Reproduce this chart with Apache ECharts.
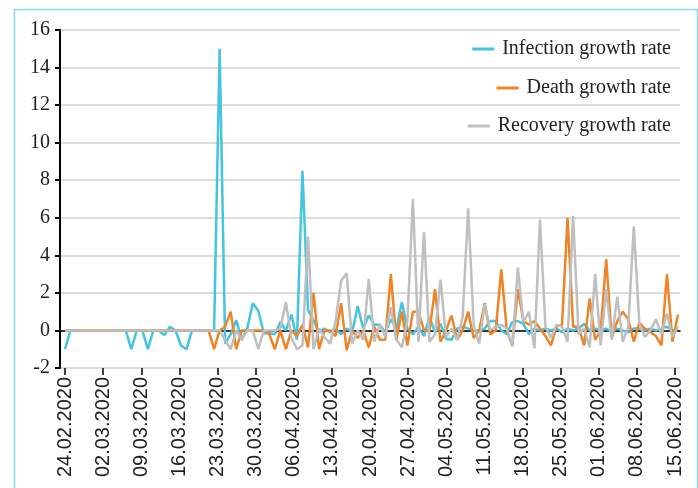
<!DOCTYPE html>
<html>
<head>
<meta charset="utf-8">
<script src="https://cdn.jsdelivr.net/npm/echarts@6/dist/echarts.min.js"></script>
<style>
html,body{margin:0;padding:0;background:#fff;}
#chart{width:698px;height:488px;}
</style>
</head>
<body>
<div id="chart"></div>
<script>
// ---- data ----
const seriesNames = ['Infection growth rate', 'Death growth rate', 'Recovery growth rate'];

// daily values starting 24.02.2020
const infection = [
  -1, 0, 0, 0, 0, 0, 0, 0, 0, 0,
  0, 0, -1, 0, 0, -1, 0, 0, -0.25, 0.2,
  0, -0.8, -1, 0, 0, 0, 0, 0, 15, -0.7,
  -0.2, 0.55, -0.5, 0.1, 1.45, 1.05, -0.15, -0.15, -0.2, 0.45,
  0, 0.85, -0.5, 8.5, 1.1, 0.55, -0.1, 0.1, -0.1, 0.1,
  -0.2, 0.1, -0.1, 1.3, 0.1, 0.8, 0.3, 0.3, -0.1, 0.6,
  0.1, 1.5, 0.1, -0.2, 0.2, -0.3, 0.7, -0.1, 0.35, -0.45,
  -0.5, 0.1, 0.2, 0.1, 0, 0, 0.1, 0.5, 0.5, 0,
  -0.2, 0.45, 0.5, 0.35, -0.2, 0.1, 0, 0.1, 0, 0.1,
  -0.1, 0.1, 0, 0.1, 0.35, 0, 0.1, 0, 0.1, -0.1,
  0.1, 0, -0.1, 0.1, 0.1, 0, 0.1, 0, 0.1, 0.2,
  0, 0.1
];
const death = [
  0, 0, 0, 0, 0, 0, 0, 0, 0, 0,
  0, 0, 0, 0, 0, 0, 0, 0, 0, 0,
  0, 0, 0, 0, 0, 0, 0, -1, 0, 0.2,
  1.0, -1.0, 0, 0, 0, 0, 0, -0.2, -1.0, 0,
  -1.0, 0, -0.3, 0.3, -0.9, 2.0, -1.0, 0, 0, -0.3,
  1.45, -1.05, 0, -0.4, 0, -0.9, 0.2, -0.5, -0.5, 3.0,
  -0.5, 1.0, -0.8, 1.0, 1.0, 0, 0, 2.2, -0.6, 0,
  0.8, -0.5, 0, 1.0, -0.4, 0, 1.45, -0.2, 0, 3.25,
  0, -0.8, 2.2, 0.5, 0.3, 0.5, 0.1, -0.3, -0.8, 0.2,
  0.3, 6.0, 0.2, 0.2, -0.8, 1.7, -0.5, 0, 3.8, -0.4,
  0.5, 1.0, 0.6, -0.6, 0.4, 0.1, -0.1, -0.3, -0.8, 3.0,
  -0.6, 0.85
];
const recovery = [
  0, 0, 0, 0, 0, 0, 0, 0, 0, 0,
  0, 0, 0, 0, 0, 0, 0, 0, 0, 0,
  0, 0, 0, 0, 0, 0, 0, 0, 0, -0.5,
  -1.0, 0, -0.5, 0, 0, -1.0, 0, 0, 0, 0.1,
  1.5, -0.4, -1.0, -0.8, 5.0, -1.0, 0.1, -0.35, -0.7, 0.5,
  2.65, 3.05, -0.7, 0, -0.5, 2.75, -0.6, 0.3, -0.35, 1.25,
  -0.5, -0.9, 0.5, 7.0, -0.6, 5.25, -0.6, -0.2, 2.7, -0.35,
  0.1, -0.5, 0.7, 6.5, 0.3, -0.7, 1.4, 0, 0.2, 0.3,
  0.1, -0.85, 3.35, 0.45, 1.0, -0.95, 5.9, 0.2, -0.4, 0.3,
  0.2, -0.6, 6.1, -0.2, 0.1, -0.9, 3.0, -0.8, 2.2, -0.5,
  1.8, -0.6, 0.2, 5.55, 0.35, -0.35, 0, 0.6, -0.2, 0.9,
  -0.35, 0.2
];

// axis settings
const yMin = -2, yMax = 16, yStep = 2;
const tickLabelCount = 113;   // 24.02.2020 ... 15.06.2020
const tickEvery = 7;

function fmtDate(offset) {
  const d = new Date(2020, 1, 24 + offset);
  const p = n => (n < 10 ? '0' : '') + n;
  return p(d.getDate()) + '.' + p(d.getMonth() + 1) + '.' + d.getFullYear();
}
const tickDates = [];
for (let i = 0; i < tickLabelCount; i++) tickDates.push(fmtDate(i));
const dataDates = [];
for (let i = 0; i < infection.length; i++) dataDates.push(fmtDate(i));

const colors = ['#43c4df', '#ef8427', '#bfbfbf'];
const serif = 'Liberation Serif';
const sans = 'Liberation Sans';

const chart = echarts.init(document.getElementById('chart'), null, {renderer: 'canvas'});

const legendTops = [39, 78, 116];
const option = {
  animation: false,
  backgroundColor: '#fff',
  graphic: [{
    type: 'rect', left: 12, top: 7, z: 100, silent: true,
    shape: {width: 683, height: 500},
    style: {fill: 'none', stroke: '#8ad9eb', lineWidth: 1.5}
  }],
  grid: [
    {left: 60, right: 18, top: 30, bottom: 120},
    {left: 65, right: 23, top: 30, bottom: 120},
    {left: 65, right: 20, top: 30, bottom: 120}
  ],
  xAxis: [
    {gridIndex: 0, type: 'value', min: 0, max: 1,
     axisLine: {show: true, onZero: true, lineStyle: {color: '#000', width: 1.5}},
     axisTick: {show: false}, axisLabel: {show: false}, splitLine: {show: false}},
    {gridIndex: 1, type: 'category', data: tickDates, boundaryGap: false,
     axisLine: {show: false, onZero: false},
     axisTick: {show: true, interval: tickEvery - 1, length: 7, lineStyle: {color: '#000', width: 1.5}},
     axisLabel: {interval: tickEvery - 1, rotate: 90, margin: 9, color: '#222',
                 fontFamily: sans, fontSize: 20}},
    {gridIndex: 2, type: 'category', data: dataDates, boundaryGap: false, show: false}
  ],
  yAxis: [
    {gridIndex: 0, type: 'value', min: yMin, max: yMax, interval: yStep,
     axisLine: {show: true, lineStyle: {color: '#000', width: 2}},
     axisTick: {show: true, length: 5, lineStyle: {color: '#000', width: 2}},
     axisLabel: {margin: 10, color: '#222', fontFamily: serif, fontSize: 20},
     splitLine: {show: true, lineStyle: {color: '#dcdcdc', width: 2}}},
    {gridIndex: 1, type: 'value', min: yMin, max: yMax, show: false, splitLine: {show: false}},
    {gridIndex: 2, type: 'value', min: yMin, max: yMax, show: false, splitLine: {show: false}}
  ],
  legend: seriesNames.map((n, i) => ({
    data: [n], right: 27, top: legendTops[i], orient: 'vertical', padding: 0,
    icon: 'rect', itemWidth: 22, itemHeight: 3,
    textStyle: {fontFamily: serif, fontSize: 20, color: '#222', padding: [0, 0, 0, 3]}
  })),
  series: [infection, death, recovery].map((arr, i) => ({
    name: seriesNames[i], type: 'line', xAxisIndex: 2, yAxisIndex: 2,
    data: arr, symbol: 'none', showSymbol: false,
    lineStyle: {color: colors[i], width: 2.5}, itemStyle: {color: colors[i]}
  }))
};
chart.setOption(option);
</script>
</body>
</html>
